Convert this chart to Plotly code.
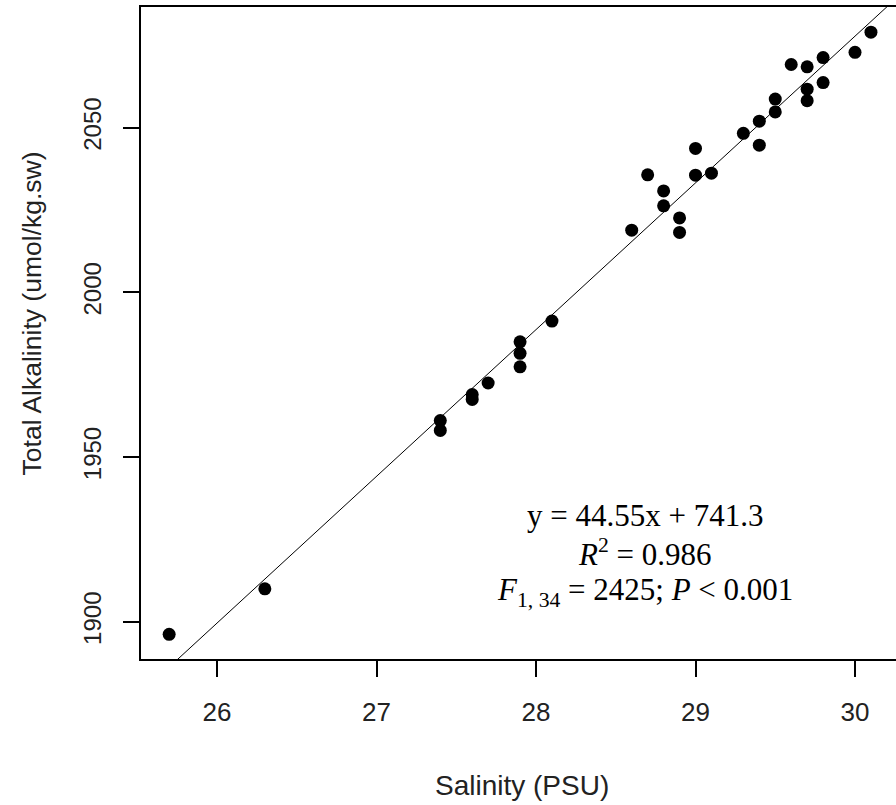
import plotly.graph_objects as go

# Data
salinity = [25.7, 26.3, 27.4, 27.4, 27.6, 27.6, 27.7, 27.9, 27.9, 27.9, 28.1,
            28.6, 28.7, 28.8, 28.8, 28.9, 28.9, 29.0, 29.0, 29.1, 29.3, 29.4,
            29.4, 29.5, 29.5, 29.6, 29.7, 29.7, 29.7, 29.8, 29.8, 30.0, 30.1]
alkalinity = [1896.2, 1910.0, 1961.1, 1958.1, 1969.0, 1967.5, 1972.5, 1985.0,
              1981.5, 1977.4, 1991.3, 2018.9, 2035.7, 2030.8, 2026.3, 2022.6,
              2018.2, 2043.7, 2035.6, 2036.2, 2048.3, 2052.0, 2044.7, 2058.7,
              2054.8, 2069.2, 2068.5, 2061.7, 2058.2, 2071.3, 2063.7, 2072.9,
              2079.0]
slope = 44.55
intercept = 741.3
x_ticks = [26, 27, 28, 29, 30]
y_ticks = [1900, 1950, 2000, 2050]
x_title = "Salinity (PSU)"
y_title = "Total Alkalinity (umol/kg.sw)"
stats_lines = [
    "y = 44.55x + 741.3",
    "<i>R</i><sup>2</sup> = 0.986",
    "<i>F</i><sub>1, 34</sub> = 2425; <i>P</i> &lt; 0.001",
]

x_range = [25.5235, 30.257]
y_range = [1888.7, 2086.65]

line_x = list(x_range)
line_y = [slope * v + intercept for v in line_x]

fig = go.Figure()
fig.add_trace(go.Scatter(x=line_x, y=line_y, mode="lines",
                         line=dict(color="black", width=1), showlegend=False))
fig.add_trace(go.Scatter(x=salinity, y=alkalinity, mode="markers",
                         marker=dict(color="black", size=13), showlegend=False))

fig.update_layout(
    width=896, height=805,
    margin=dict(l=141, r=0, t=7, b=146),
    paper_bgcolor="white", plot_bgcolor="white",
    xaxis=dict(range=x_range, tickvals=x_ticks, showgrid=False, zeroline=False,
               showline=True, mirror=True, linecolor="black", linewidth=2,
               ticks="outside", ticklen=16, tickwidth=1.5, tickcolor="black",
               tickfont=dict(family="Liberation Sans", size=26, color="#222"),
               ticklabelstandoff=13),
    yaxis=dict(range=y_range, tickvals=y_ticks, showgrid=False, zeroline=False,
               showline=True, mirror=False, linecolor="black", linewidth=2,
               ticks="outside", ticklen=16, tickwidth=1.5, tickcolor="black",
               tickangle=-90,
               tickfont=dict(family="Liberation Sans", size=24, color="#222"),
               ticklabelstandoff=12),
)

annos = [
    dict(text=x_title, xref="paper", yref="paper", x=0.505, y=0, yanchor="middle",
         yshift=-126, showarrow=False,
         font=dict(family="Liberation Sans", size=28, color="#222")),
    dict(text=y_title, xref="paper", yref="paper", x=0, y=0.53, xanchor="center",
         xshift=-109, textangle=-90, showarrow=False,
         font=dict(family="Liberation Sans", size=26.5, color="#222")),
]
ys = [0.2195, 0.1626, 0.1027]
for t, yy in zip(stats_lines, ys):
    annos.append(dict(text=t, xref="paper", yref="paper", x=0.6675, y=yy,
                      xanchor="center", yanchor="middle", showarrow=False,
                      font=dict(family="Liberation Serif", size=31, color="black")))
fig.update_layout(annotations=annos)

fig.write_html("out.html")
